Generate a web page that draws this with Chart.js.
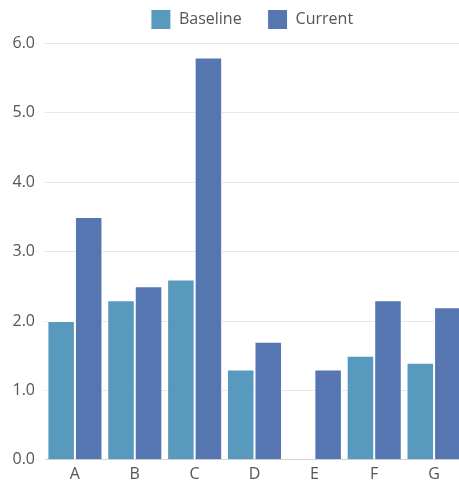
<!DOCTYPE html>
<html>
<head>
<meta charset="utf-8">
<script src="https://cdn.jsdelivr.net/npm/chart.js@4.4.1/dist/chart.umd.min.js"></script>
<style>
  html, body { margin: 0; padding: 0; overflow: hidden; background: #fff; }
  #wrap { position: relative; width: 504px; height: 486px; }
</style>
</head>
<body>
<div id="wrap"><canvas id="chart"></canvas></div>
<script>
const categories = ['A', 'B', 'C', 'D', 'E', 'F', 'G'];
const baseline = [2.0, 2.3, 2.6, 1.3, null, 1.5, 1.4];
const current = [3.5, 2.5, 5.8, 1.7, 1.3, 2.3, 2.2];
const yTicks = [0, 1, 2, 3, 4, 5, 6];

const FONT = "'Open Sans', 'Noto Sans', sans-serif";
const TEXT = '#555555';

// a little extra room under the legend row
const legendSpacing = {
  id: 'legendSpacing',
  beforeInit(chart) {
    const fit = chart.legend.fit;
    chart.legend.fit = function () {
      fit.call(this);
      this.height += 4;
    };
  }
};

new Chart(document.getElementById('chart'), {
  type: 'bar',
  data: {
    labels: categories,
    datasets: [
      {
        label: 'Baseline',
        data: baseline,
        backgroundColor: '#5899be',
        borderColor: '#ffffff',
        borderWidth: 1,
        categoryPercentage: 0.92,
        barPercentage: 1.0
      },
      {
        label: 'Current',
        data: current,
        backgroundColor: '#5576b0',
        borderColor: '#ffffff',
        borderWidth: 1,
        categoryPercentage: 0.92,
        barPercentage: 1.0
      }
    ]
  },
  options: {
    responsive: true,
    maintainAspectRatio: false,
    animation: false,
    layout: { padding: { top: -16.5, bottom: -3, left: 0, right: 0 } },
    plugins: {
      tooltip: { enabled: false },
      legend: {
        position: 'top',
        labels: {
          boxWidth: 20,
          boxHeight: 20,
          padding: 26,
          color: TEXT,
          font: { family: FONT, size: 16 }
        }
      }
    },
    scales: {
      x: {
        grid: { display: false, drawTicks: false },
        border: { display: true, color: '#d4d4d4', width: 1 },
        ticks: { color: TEXT, padding: 5, font: { family: FONT, size: 16 } }
      },
      y: {
        min: 0,
        max: 6,
        afterBuildTicks(scale) { scale.ticks = yTicks.map(v => ({ value: v })); },
        afterFit(scale) { scale.width = 45; },
        grid: { color: '#e6e6e6', lineWidth: 1, drawTicks: false },
        border: { display: false },
        ticks: {
          color: TEXT,
          padding: 10,
          font: { family: FONT, size: 16 },
          callback: v => Number(v).toFixed(1)
        }
      },
      gutter: {
        type: 'linear',
        position: 'right',
        display: true,
        afterFit(scale) { scale.width = 40; },
        grid: { display: false, drawTicks: false },
        border: { display: false },
        ticks: { display: false }
      }
    }
  },
  plugins: [legendSpacing]
});
</script>
</body>
</html>
